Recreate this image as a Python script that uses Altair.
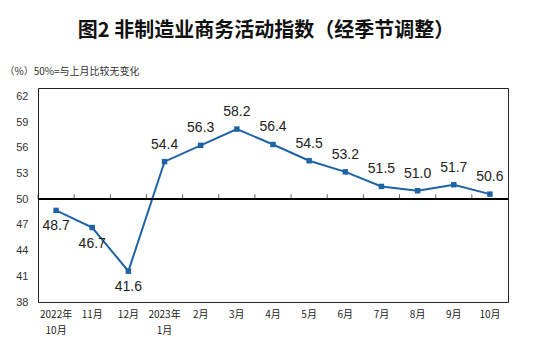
import altair as alt
import pandas as pd

months = ["2022年\n10月", "11月", "12月", "2023年\n1月", "2月", "3月", "4月",
          "5月", "6月", "7月", "8月", "9月", "10月"]
values = [48.7, 46.7, 41.6, 54.4, 56.3, 58.2, 56.4, 54.5, 53.2, 51.5, 51.0, 51.7, 50.6]
y_ticks = [38, 41, 44, 47, 50, 53, 56, 59, 62]

df = pd.DataFrame({"month": months, "value": values, "idx": list(range(len(months)))})
df["label"] = df["value"].map(lambda v: f"{v:.1f}")

FONT = "Liberation Sans"
CJK = "Noto Sans CJK SC"
LINE = "#1f63a6"

xscale = alt.Scale(type="band", paddingInner=0, paddingOuter=0)
yscale = alt.Scale(domain=[38, 63], nice=False, zero=False)

xax = alt.Axis(title=None, orient="bottom", labelAngle=0, ticks=False, domain=False,
               labelExpr="split(datum.label, '\\n')", labelFont=CJK,
               labelFontSize=10, labelColor="#222222", labelPadding=7,
               labelLineHeight=16, labelOverlap=False, grid=False)
yax = alt.Axis(values=y_ticks, grid=False, ticks=False, domain=False,
               labelFont=FONT, labelFontSize=11, labelColor="#333333",
               labelPadding=10, labelOverlap=False,
               title="（%）50%=与上月比较无变化", titleAngle=0,
               titleFont=CJK, titleFontSize=10, titleFontWeight="normal",
               titleColor="#333333", titleAlign="left", titleBaseline="middle",
               titleX=-34, titleY=-17)

X = alt.X("month:N", sort=months, scale=xscale, axis=xax)
Y = alt.Y("value:Q", scale=yscale, axis=yax)

base = alt.Chart(df)

line = base.mark_line(color=LINE, strokeWidth=2).encode(x=X, y=Y)

# 50% reference line and boundary ticks on it
rule50 = base.mark_rule(color="#000000", strokeWidth=1.2).encode(
    y=alt.Y(datum=50, scale=yscale, axis=yax))
ticks50 = base.mark_tick(color="#222222", size=5, thickness=1, orient="vertical", yOffset=-2.5).encode(
    x=alt.X("month:N", sort=months, scale=xscale, axis=xax, bandPosition=0),
    y=alt.Y(datum=50, scale=yscale, axis=yax))

pts = base.mark_square(color=LINE, size=30, opacity=1).encode(x=X, y=Y)

lab_below = base.transform_filter("datum.idx < 3").mark_text(
    font=FONT, fontSize=14, color="#222222", dy=16).encode(x=X, y=Y, text="label:N")
lab_above = base.transform_filter("datum.idx >= 3").mark_text(
    font=FONT, fontSize=14, color="#222222", dy=-17).encode(x=X, y=Y, text="label:N")

chart = alt.layer(line, rule50, ticks50, pts, lab_below, lab_above).properties(
    width=470, height=214,
    autosize=alt.AutoSizeParams(type="none"),
    padding={"left": 38, "top": 88, "right": 29, "bottom": 61},
    title=alt.TitleParams("图2  非制造业商务活动指数（经季节调整）", font=CJK, fontSize=20,
                          fontWeight="bold", color="#111111", anchor="middle", offset=25, dx=-7),
).configure(background="white").configure_view(stroke="#222222", strokeWidth=1)

chart.save("out.html", embed_options={"renderer": "svg", "actions": False})
